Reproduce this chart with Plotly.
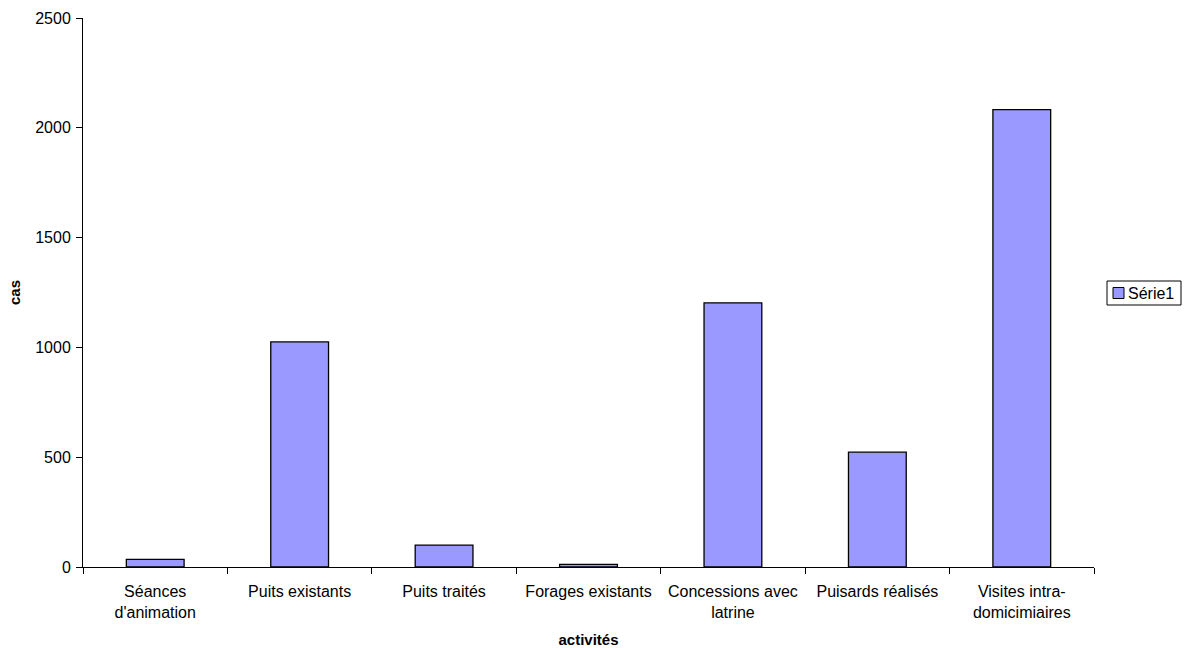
import plotly.graph_objects as go

categories = ["Séances<br>d'animation", "Puits existants", "Puits traités", "Forages existants",
              "Concessions avec<br>latrine", "Puisards réalisés", "Visites intra-<br>domicimiaires"]
values = [35, 1025, 100, 12, 1203, 523, 2083]
series_name = "Série1"
y_ticks = [0, 500, 1000, 1500, 2000, 2500]

BAR_COLOR = "#9999ff"
W, H = 1184, 648
ML, MR, MT, MB = 83, 90, 18, 81
PW, PH = W - ML - MR, H - MT - MB


def px_x(p):
    return (p - ML) / PW


def px_y(p):
    return (H - MB - p) / PH


fig = go.Figure()
fig.add_trace(go.Bar(
    x=categories, y=values, name=series_name,
    marker=dict(color=BAR_COLOR, line=dict(color="#000000", width=1.3)),
    showlegend=False,
))

# Legend box (Excel-style), drawn in paper coordinates
fig.add_shape(type="rect", xref="paper", yref="paper",
              x0=px_x(1107), x1=px_x(1181), y0=px_y(305), y1=px_y(281),
              line=dict(color="#000000", width=1), fillcolor="white")
fig.add_shape(type="rect", xref="paper", yref="paper",
              x0=px_x(1113), x1=px_x(1124), y0=px_y(298.5), y1=px_y(287.5),
              line=dict(color="#000000", width=1), fillcolor=BAR_COLOR)
fig.add_annotation(xref="paper", yref="paper", x=px_x(1126), y=px_y(293),
                   xanchor="left", yanchor="middle", showarrow=False,
                   text=series_name, font=dict(size=16))

font = "Liberation Sans, Arial, sans-serif"
fig.update_layout(
    width=W, height=H,
    margin=dict(l=ML, r=MR, t=MT, b=MB, autoexpand=False),
    paper_bgcolor="white", plot_bgcolor="white",
    bargap=0.6,
    font=dict(family=font, size=16, color="#000000"),
    showlegend=False,
    xaxis=dict(
        showline=True, linecolor="#000000", linewidth=1,
        ticks="outside", tickson="boundaries", ticklen=6, tickcolor="#000000",
        ticklabelstandoff=10,
        title=dict(text="<b>activités</b>", font=dict(size=15), standoff=16),
        tickfont=dict(size=16), automargin=False,
    ),
    yaxis=dict(
        range=[0, 2500], tickvals=y_ticks,
        showline=True, linecolor="#000000", linewidth=1,
        ticks="outside", ticklen=6, tickcolor="#000000",
        ticklabelstandoff=2,
        showgrid=False, zeroline=False,
        title=dict(text="<b>cas</b>", font=dict(size=15), standoff=10),
        tickfont=dict(size=16), automargin=False,
    ),
)

fig.write_html("out.html",
               config={"displayModeBar": False},
               post_script="document.body.style.margin='0';document.body.style.padding='0';"
                           "document.body.style.overflow='hidden';")
